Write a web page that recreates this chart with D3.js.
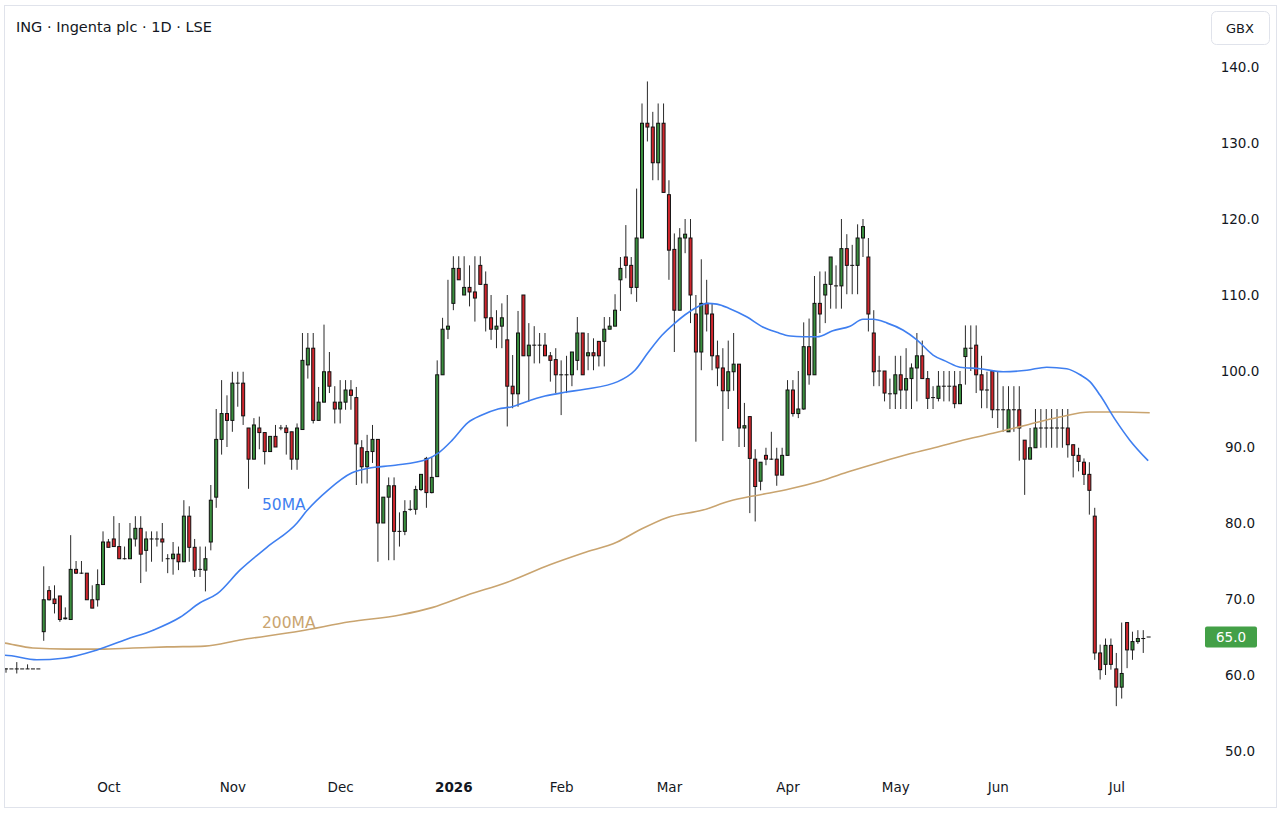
<!DOCTYPE html>
<html>
<head>
<meta charset="utf-8">
<script src="https://cdn.jsdelivr.net/npm/d3@7"></script>
<style>
  body { margin: 0; background: #fff; }
  svg text { font-family: "DejaVu Sans", sans-serif; }
</style>
</head>
<body>
<script>
// daily candles, Sep 2025 .. Jul 2026 (index = trading day)
var open = [
  60.8,60.8,60.8,60.8,60.8,60.8,60.8,65.7,71.1,70.0,
  70.4,67.4,67.3,73.9,73.4,73.4,69.9,69.9,71.9,77.5,
  77.9,76.9,75.3,75.3,77.9,79.3,76.4,77.9,77.9,77.9,
  75.3,75.3,75.9,74.9,80.9,76.8,73.9,73.8,77.5,83.4,
  91.0,94.4,93.5,98.4,98.4,92.5,88.4,92.5,91.9,89.4,
  91.4,92.5,92.5,92.0,88.4,92.3,100.8,103.0,93.5,95.9,
  99.9,95.9,95.0,95.9,97.5,96.5,89.9,87.4,89.4,91.0,
  80.0,83.4,84.9,78.9,78.9,81.8,81.8,84.4,88.5,84.0,
  86.1,99.5,105.5,108.9,113.5,110.0,111.0,110.4,113.9,111.4,
  107.0,105.5,105.9,104.1,98.0,97.0,110.0,102.0,103.4,103.4,
  103.4,102.0,101.5,99.5,99.5,99.5,101.4,105.0,102.0,102.4,
  103.9,103.9,105.5,105.9,112.0,115.0,113.9,111.0,117.5,132.6,
  132.1,127.4,132.6,123.2,116.0,108.0,117.5,117.5,107.5,102.5,
  108.9,107.5,102.0,100.4,97.4,99.9,100.9,92.5,94.0,88.4,
  85.5,88.9,88.4,88.4,86.3,88.9,97.5,94.4,95.0,103.2,
  99.5,108.9,110.0,111.4,111.2,111.2,116.1,113.9,113.9,117.5,
  115.0,105.0,100.0,100.0,97.0,97.0,99.5,97.5,99.0,100.4,
  102.0,99.0,96.5,96.4,98.0,98.0,98.0,95.7,101.9,103.0,
  103.4,99.5,97.5,100.0,94.9,94.9,92.0,94.9,94.9,90.9,
  88.4,89.9,92.5,92.5,92.5,92.5,92.5,92.5,90.3,88.9,
  88.0,86.4,80.9,62.9,61.4,63.9,60.8,58.4,66.9,63.3,
  64.4,64.8,65.0
];
var high = [
  60.9,60.8,61.7,60.8,61.4,60.8,60.8,74.3,71.7,71.8,
  70.4,68.9,78.4,75.0,75.0,73.4,71.8,73.9,78.9,77.9,
  80.9,80.0,76.9,80.0,80.9,80.9,78.9,78.9,78.9,80.0,
  75.9,77.5,76.9,83.0,82.2,77.9,76.9,76.9,85.0,95.0,
  98.8,96.8,99.9,99.9,99.9,92.5,93.8,94.0,91.9,91.4,
  92.9,92.9,92.9,92.0,93.1,105.0,105.0,105.0,97.9,106.1,
  102.5,98.0,98.8,98.8,98.8,97.9,90.9,91.6,92.9,91.0,
  83.4,86.0,86.0,81.4,83.0,83.0,84.9,86.4,88.7,88.7,
  101.4,107.0,112.0,115.1,115.1,115.1,113.9,115.1,115.1,113.1,
  110.0,108.0,108.9,110.0,102.1,107.9,110.0,106.3,105.9,105.0,
  105.0,102.5,103.0,101.4,102.0,102.5,107.1,105.0,105.0,104.3,
  103.9,107.1,107.1,110.1,115.0,119.2,115.0,124.0,135.2,138.1,
  134.1,135.2,135.2,125.1,118.1,118.8,120.0,120.0,110.0,114.7,
  112.0,108.9,104.0,103.0,104.0,105.0,100.9,95.8,94.0,89.7,
  88.0,89.9,92.0,89.9,89.9,98.8,98.8,100.0,106.4,106.9,
  112.5,113.1,113.1,115.0,113.9,120.0,118.0,116.6,119.3,120.0,
  117.5,108.0,102.0,100.0,99.0,102.0,102.0,103.0,101.0,105.0,
  104.0,100.0,98.0,100.0,100.0,100.0,100.0,100.0,106.0,106.0,
  106.0,102.0,99.9,100.0,99.9,98.0,98.0,98.0,98.0,90.9,
  92.5,95.0,95.0,95.0,95.0,95.0,95.0,95.0,90.3,89.9,
  88.5,88.0,82.0,64.0,64.8,64.8,62.9,66.9,66.9,65.7,
  65.9,65.9,65.0
];
var low = [
  60.3,60.8,60.2,60.8,60.8,60.8,60.8,64.5,69.8,68.1,
  67.0,67.3,67.3,73.3,73.3,69.9,68.8,69.0,71.9,76.8,
  76.9,75.3,75.2,75.3,76.9,72.1,73.6,74.9,76.9,74.9,
  73.4,73.2,73.8,74.9,74.9,72.9,72.9,71.0,76.4,82.0,
  89.0,90.0,92.0,95.3,92.9,84.5,88.4,89.7,87.7,89.4,
  90.0,92.2,89.0,87.0,87.0,92.3,99.0,93.1,93.5,95.9,
  97.1,93.1,93.1,94.9,94.9,85.0,85.2,85.2,87.9,74.9,
  80.0,75.1,75.1,76.9,78.4,81.6,81.1,84.2,82.0,83.9,
  86.1,99.5,104.2,108.0,112.0,110.0,108.5,106.5,111.4,105.2,
  104.1,103.0,103.0,92.7,95.1,95.3,102.0,96.0,101.0,101.0,
  102.0,98.6,97.1,94.2,97.1,98.0,100.1,99.5,100.1,100.1,
  100.6,100.6,105.5,105.9,107.9,112.2,110.1,109.1,117.5,130.2,
  125.1,125.1,123.5,112.0,102.5,108.0,115.5,106.3,90.7,100.1,
  105.2,100.1,98.0,90.8,95.0,97.4,90.0,90.0,81.3,80.2,
  84.3,87.6,88.3,84.9,86.3,88.9,94.0,93.8,94.9,98.2,
  99.5,105.0,106.3,108.2,108.2,108.2,110.1,110.1,110.1,115.0,
  105.2,98.0,98.0,96.0,95.0,95.0,95.0,95.0,95.0,96.0,
  99.0,95.0,95.0,96.0,96.0,96.0,95.1,95.7,98.2,100.0,
  97.1,95.1,95.1,93.8,92.5,92.0,92.0,92.0,88.2,83.7,
  88.4,89.9,89.9,89.9,89.9,89.9,89.9,88.6,86.0,86.8,
  85.0,81.1,62.0,59.4,60.0,60.7,55.9,56.9,60.9,62.0,
  64.1,62.9,65.0
];
var close = [
  60.8,60.8,60.8,60.8,60.8,60.8,60.8,69.9,69.9,69.4,
  67.3,67.5,73.9,73.4,73.4,69.9,68.8,71.9,77.5,76.8,
  76.9,75.3,75.3,77.9,79.3,75.9,77.9,77.9,77.9,77.5,
  75.3,75.9,74.9,80.9,76.8,73.8,73.9,75.3,83.0,91.0,
  94.4,93.5,98.4,98.4,94.1,88.4,92.9,91.9,89.4,91.4,
  90.0,92.5,91.9,88.4,92.5,101.4,103.0,93.5,95.9,99.9,
  98.0,95.0,95.9,97.5,96.8,90.4,87.4,89.4,91.0,80.0,
  83.4,84.9,78.9,78.9,81.5,81.8,84.4,86.4,84.0,86.0,
  99.5,105.5,105.9,113.5,112.0,111.0,110.4,109.6,111.4,107.0,
  105.5,105.9,107.0,98.0,97.0,105.0,102.0,103.4,103.4,103.4,
  102.0,101.4,99.5,99.5,99.5,102.5,105.0,99.5,102.4,102.0,
  102.0,105.5,105.9,108.0,113.5,113.9,111.0,117.5,132.6,132.1,
  127.4,132.6,123.5,115.9,108.0,117.5,118.0,110.0,102.5,108.9,
  107.5,102.0,100.4,97.4,99.9,100.9,92.5,92.8,88.5,84.8,
  88.0,88.4,88.4,86.3,88.9,97.5,94.4,95.0,103.2,99.5,
  108.9,107.5,111.4,115.0,111.2,116.1,113.9,113.9,117.5,119.0,
  107.5,99.9,100.0,97.1,97.0,99.5,97.5,99.0,100.4,102.0,
  99.0,96.4,96.5,98.0,98.0,98.0,95.7,98.2,103.0,103.0,
  99.5,97.5,97.5,94.9,94.9,94.9,94.9,94.9,92.5,88.4,
  89.9,92.5,92.5,92.5,92.5,92.5,92.5,90.3,88.9,88.1,
  86.4,84.3,62.9,60.7,63.9,61.4,58.4,60.2,63.3,64.4,
  64.8,64.8,65.0
];

// moving averages (x = trading-day index)
var ma50Idx = [-1.1,-0.2,5.7,10.6,16.9,22.4,27.3,32.3,36.0,39.2,43.4,48.4,54.0,55.8,59.7,64.2,67.2,72.2,
  78.1,80.2,82.8,85.7,88.3,91.3,93.9,96.3,100.0,103.7,107.4,113.5,116.7,119.1,121.7,124.1,126.0,
  128.2,130.1,131.9,134.3,137.5,140.4,143.0,145.5,147.9,150.5,153.4,156.6,159.0,160.9,163.5,
  166.4,169.0,172.0,174.6,177.0,180.7,185.0,189.4,193.1,196.8,199.3,201.1,203.0,205.8,208.5,211.9];
var ma50Val = [62.6,62.6,62.0,62.2,63.3,64.7,65.9,67.6,69.5,70.7,73.8,76.8,80.0,81.6,84.3,86.6,87.2,87.6,
  88.4,89.2,90.9,93.2,94.2,95.0,95.3,95.9,96.7,97.2,97.6,98.6,100.1,102.4,104.7,106.3,107.4,
  108.4,108.9,108.8,108.2,107.1,105.8,105.1,104.6,104.5,104.5,105.3,105.9,106.8,106.8,106.3,
  105.4,104.1,102.1,101.2,100.5,100.3,99.9,100.1,100.5,100.3,99.5,98.6,96.8,93.6,90.9,88.2];

var ma200Idx = [-1.1,-0.2,5.0,11.3,17.4,23.6,29.9,36.9,43.4,54.6,63.8,73.1,79.2,85.5,93.0,100.9,107.1,
  113.4,117.6,122.6,129.3,134.3,138.6,141.7,145.5,151.0,156.6,162.2,167.7,173.3,177.0,183.1,
  189.4,195.5,201.1,206.7,212.2];
var ma200Val = [64.3,64.2,63.55,63.4,63.4,63.55,63.7,63.8,64.6,65.8,67.0,67.9,68.9,70.5,72.2,74.5,76.05,
  77.5,79.1,80.7,81.7,82.9,83.55,83.95,84.5,85.5,86.8,88.0,89.1,90.1,90.8,91.8,
  92.9,93.95,94.6,94.6,94.5];

var monthLabels = ["Oct", "Nov", "Dec", "2026", "Feb", "Mar", "Apr", "May", "Jun", "Jul"];
var monthIdx = [19, 42, 62, 83, 103, 123, 145, 165, 184, 206];
var priceTicks = [50, 60, 70, 80, 90, 100, 110, 120, 130, 140];
var lastPrice = 65.0;

var width = 1282,
    height = 813;

var upColor = "#3a8f3e",
    downColor = "#d0262d",
    ma50Color = "#3f7ff0",
    ma200Color = "#c9a46f",
    textColor = "#131722";

var svg = d3.select("body").append("svg")
    .attr("width", width)
    .attr("height", height);

// frame
svg.append("rect")
    .attr("x", 4.5).attr("y", 5.5)
    .attr("width", 1272).attr("height", 802)
    .attr("fill", "#fff")
    .attr("stroke", "#e0e3eb");

var x = d3.scaleLinear().domain([0, 220.6]).range([6, 1195]);
var y = d3.scaleLinear().domain([50, 140]).range([751, 67]);

svg.append("clipPath").attr("id", "plot")
  .append("rect")
    .attr("x", 5).attr("y", 6)
    .attr("width", 1190).attr("height", 770);

var plot = svg.append("g").attr("clip-path", "url(#plot)");

var candles = d3.range(open.length).map(function(i) {
  return { i: i, o: open[i], h: high[i], l: low[i], c: close[i] };
});

// wicks
plot.append("g").selectAll("line")
    .data(candles)
  .enter().append("line")
    .attr("x1", function(d) { return x(d.i); })
    .attr("x2", function(d) { return x(d.i); })
    .attr("y1", function(d) { return y(d.h); })
    .attr("y2", function(d) { return y(d.l); })
    .attr("stroke", "#2a2a2a")
    .attr("stroke-width", 1);

// bodies
plot.append("g").selectAll("rect")
    .data(candles)
  .enter().append("rect")
    .attr("x", function(d) { return x(d.i) - 1.5; })
    .attr("width", 3)
    .attr("y", function(d) { return y(Math.max(d.o, d.c)); })
    .attr("height", function(d) { return Math.max(0.01, Math.abs(y(d.o) - y(d.c))); })
    .attr("fill", function(d) { return d.c >= d.o ? upColor : downColor; })
    .attr("stroke", "#111")
    .attr("stroke-width", 1);

var line = d3.line()
    .x(function(d) { return x(d[0]); })
    .y(function(d) { return y(d[1]); })
    .curve(d3.curveMonotoneX);

plot.append("path")
    .datum(d3.zip(ma200Idx, ma200Val))
    .attr("d", line)
    .attr("fill", "none")
    .attr("stroke", ma200Color)
    .attr("stroke-width", 1.6);

plot.append("path")
    .datum(d3.zip(ma50Idx, ma50Val))
    .attr("d", line)
    .attr("fill", "none")
    .attr("stroke", ma50Color)
    .attr("stroke-width", 1.6);

svg.append("text")
    .attr("x", 262).attr("y", 510)
    .attr("fill", ma50Color)
    .style("font-size", "15.5px")
    .text("50MA");

svg.append("text")
    .attr("x", 262).attr("y", 628)
    .attr("fill", ma200Color)
    .style("font-size", "15.5px")
    .text("200MA");

// title
svg.append("text")
    .attr("x", 16).attr("y", 31.5)
    .attr("fill", textColor)
    .style("font-size", "14.5px")
    .text("ING · Ingenta plc · 1D · LSE");

// price axis
var yAxis = svg.append("g")
    .attr("transform", "translate(1240,0)")
    .call(d3.axisRight(y).tickValues(priceTicks).tickFormat(d3.format(".1f")).tickSize(0).tickPadding(0));
yAxis.select(".domain").remove();
yAxis.selectAll("text")
    .attr("text-anchor", "middle")
    .attr("fill", textColor)
    .style("font-size", "13.5px");

// time axis
var xAxis = svg.append("g")
    .attr("transform", "translate(0,782)")
    .call(d3.axisBottom(x).tickValues(monthIdx)
      .tickFormat(function(d, i) { return monthLabels[i]; })
      .tickSize(0).tickPadding(0));
xAxis.select(".domain").remove();
xAxis.selectAll("text")
    .attr("fill", textColor)
    .style("font-size", "13.5px")
    .style("font-weight", function(d, i) { return monthLabels[i] === "2026" ? "bold" : "normal"; });

// currency box
svg.append("rect")
    .attr("x", 1211.5).attr("y", 11.5)
    .attr("width", 58).attr("height", 33)
    .attr("rx", 5)
    .attr("fill", "#fff")
    .attr("stroke", "#e0e3eb");
svg.append("text")
    .attr("x", 1240).attr("y", 28)
    .attr("dy", "0.35em")
    .attr("text-anchor", "middle")
    .attr("fill", textColor)
    .style("font-size", "13px")
    .text("GBX");

// last price label
svg.append("rect")
    .attr("x", 1205).attr("y", y(lastPrice) - 10.5)
    .attr("width", 52).attr("height", 21)
    .attr("rx", 2)
    .attr("fill", "#43a047");
svg.append("text")
    .attr("x", 1231).attr("y", y(lastPrice))
    .attr("dy", "0.35em")
    .attr("text-anchor", "middle")
    .attr("fill", "#fff")
    .style("font-size", "13.5px")
    .text(d3.format(".1f")(lastPrice));
</script>
</body>
</html>
